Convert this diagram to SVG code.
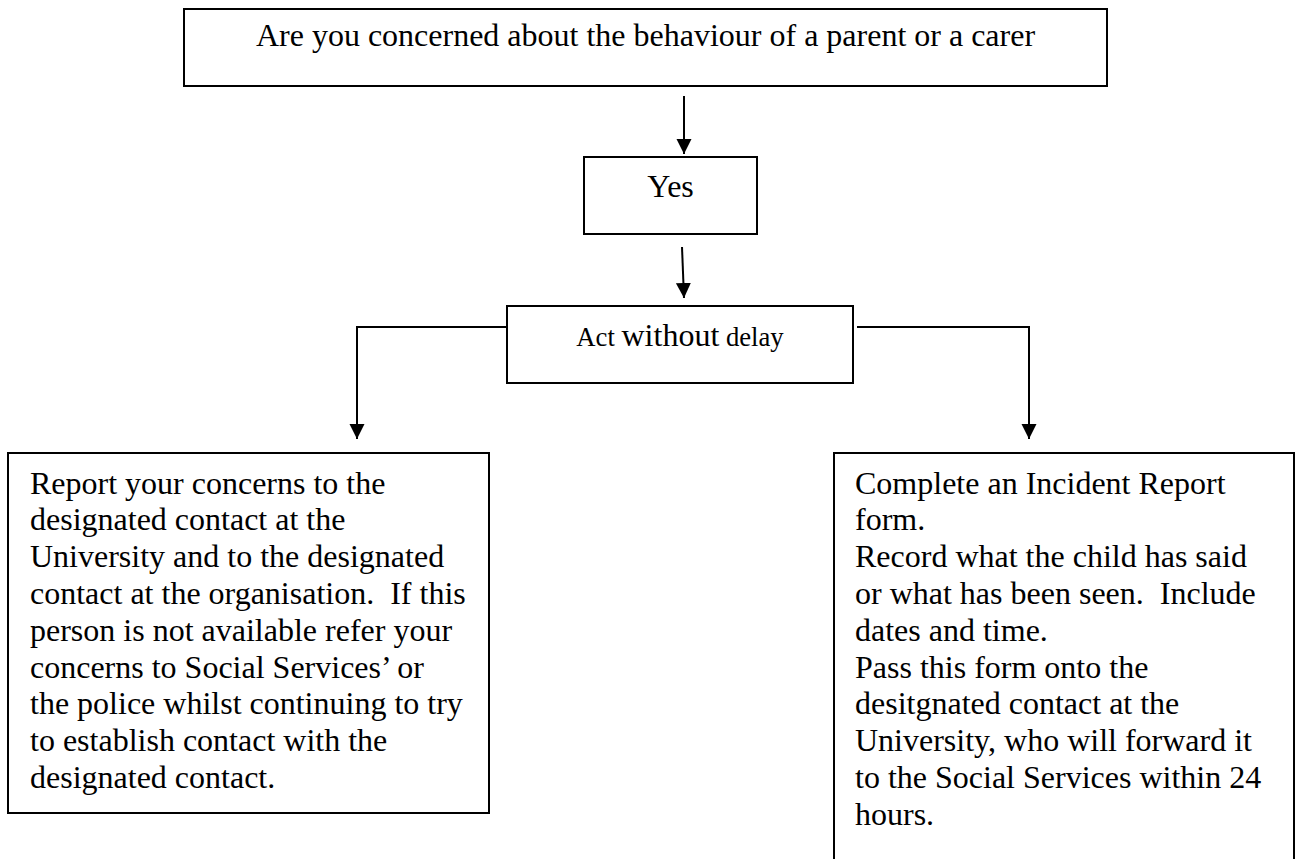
<svg xmlns="http://www.w3.org/2000/svg" width="1297" height="859" viewBox="0 0 1297 859">
<defs>
<marker id="ah" markerUnits="userSpaceOnUse" markerWidth="16" markerHeight="16" refX="15" refY="7.5" orient="auto" viewBox="0 0 16 16">
<path d="M0,0 L15,7.5 L0,15 z" fill="#000"/>
</marker>
<style>
.box{fill:#fff;stroke:#000;stroke-width:2}
.t{font-family:"Liberation Serif","Times New Roman",serif;font-size:32px;fill:#000;white-space:pre}
.s{font-size:26.67px}
.c{fill:none;stroke:#000;stroke-width:2}
</style>
</defs>
<rect width="1297" height="859" fill="#fff"/>
<g id="connectors">
<path class="c" d="M684,96 L684,154" marker-end="url(#ah)"/>
<path class="c" d="M682,247 L684,298" marker-end="url(#ah)"/>
<path class="c" d="M511,327 L357,327 L357,439" marker-end="url(#ah)"/>
<path class="c" d="M857,327 L1029,327 L1029,439" marker-end="url(#ah)"/>
</g>
<g id="n-question">
<rect class="box" x="184" y="9" width="923" height="77"/>
<text class="t" x="645.5" y="46" text-anchor="middle">Are you concerned about the behaviour of a parent or a carer</text>
</g>
<g id="n-yes">
<rect class="box" x="584" y="157" width="173" height="77"/>
<text class="t" x="670.5" y="197" text-anchor="middle">Yes</text>
</g>
<g id="n-act">
<rect class="box" x="507" y="306" width="346" height="77"/>
<text class="t" x="680" y="346" text-anchor="middle"><tspan class="s">Act </tspan>without<tspan class="s"> delay</tspan></text>
</g>
<g id="n-report">
<rect class="box" x="8" y="453" width="481" height="360"/>
<text class="t" xml:space="preserve"><tspan x="30" y="493.5">Report your concerns to the</tspan><tspan x="30" y="530.3">designated contact at the</tspan><tspan x="30" y="567.1">University and to the designated</tspan><tspan x="30" y="603.9">contact at the organisation.  If this</tspan><tspan x="30" y="640.7">person is not available refer your</tspan><tspan x="30" y="677.5">concerns to Social Services’ or</tspan><tspan x="30" y="714.3">the police whilst continuing to try</tspan><tspan x="30" y="751.1">to establish contact with the</tspan><tspan x="30" y="787.9">designated contact.</tspan></text>
</g>
<g id="n-incident">
<path class="box" d="M834,870 L834,453 L1294,453 L1294,870"/>
<text class="t" xml:space="preserve"><tspan x="855" y="493.5">Complete an Incident Report</tspan><tspan x="855" y="530.3">form.</tspan><tspan x="855" y="567.1">Record what the child has said</tspan><tspan x="855" y="603.9">or what has been seen.  Include</tspan><tspan x="855" y="640.7">dates and time.</tspan><tspan x="855" y="677.5">Pass this form onto the</tspan><tspan x="855" y="714.3">desitgnated contact at the</tspan><tspan x="855" y="751.1">University, who will forward it</tspan><tspan x="855" y="787.9">to the Social Services within 24</tspan><tspan x="855" y="824.7">hours.</tspan></text>
</g>
</svg>
